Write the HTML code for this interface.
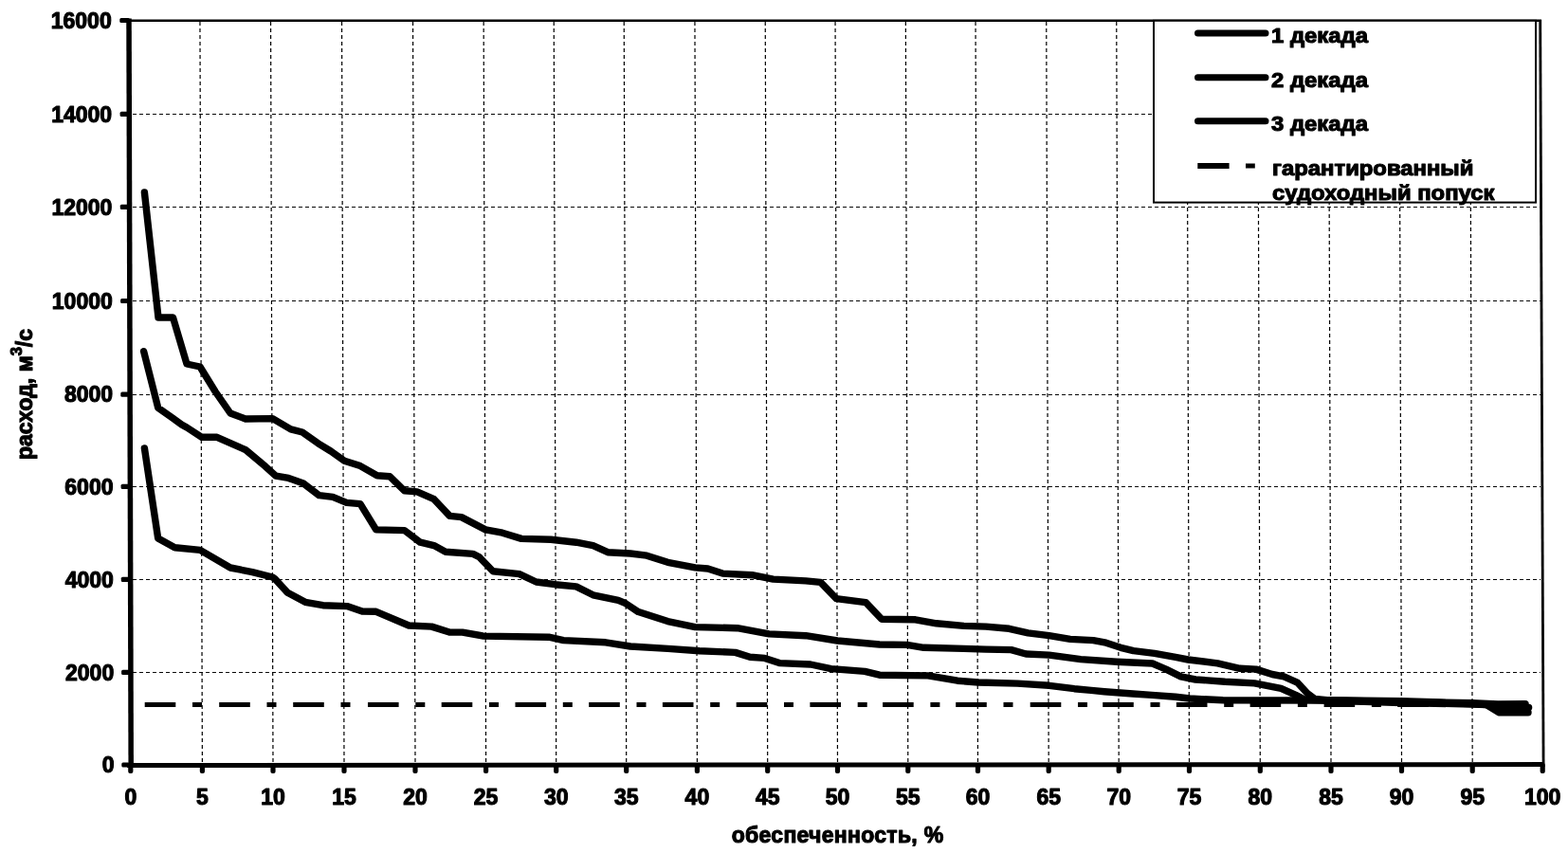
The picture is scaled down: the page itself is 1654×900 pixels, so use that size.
<!DOCTYPE html>
<html><head><meta charset="utf-8"><title>chart</title>
<style>html,body{margin:0;padding:0;background:#fff;}body{width:1654px;height:900px;overflow:hidden;}svg{display:block;}text{font-family:"Liberation Sans",Arial,sans-serif;font-weight:bold;fill:#000;stroke:#000;stroke-width:1.1px;stroke-linejoin:round;}</style>
</head><body>
<svg width="1654" height="900" viewBox="0 0 1654 900">
<rect width="100%" height="100%" fill="#fff"/>
<g stroke="#000" stroke-width="1.2" stroke-dasharray="4 3" fill="none">
<line x1="210.95" y1="23" x2="213.4" y2="805"/>
<line x1="285.55" y1="23" x2="288" y2="805"/>
<line x1="360.55" y1="23" x2="363" y2="805"/>
<line x1="435.55" y1="23" x2="438" y2="805"/>
<line x1="510.15" y1="23" x2="512.6" y2="805"/>
<line x1="584.25" y1="23" x2="586.7" y2="805"/>
<line x1="658.25" y1="23" x2="660.7" y2="805"/>
<line x1="732.95" y1="23" x2="735.4" y2="805"/>
<line x1="807.25" y1="23" x2="809.7" y2="805"/>
<line x1="881.05" y1="23" x2="883.5" y2="805"/>
<line x1="955.35" y1="23" x2="957.8" y2="805"/>
<line x1="1029.05" y1="23" x2="1031.5" y2="805"/>
<line x1="1103.75" y1="23" x2="1106.2" y2="805"/>
<line x1="1177.75" y1="23" x2="1180.2" y2="805"/>
<line x1="1252.05" y1="23" x2="1254.5" y2="805"/>
<line x1="1326.85" y1="23" x2="1329.3" y2="805"/>
<line x1="1401.55" y1="23" x2="1404" y2="805"/>
<line x1="1476.05" y1="23" x2="1478.5" y2="805"/>
<line x1="1550.75" y1="23" x2="1553.2" y2="805"/>
<line x1="140" y1="709.5" x2="1625" y2="709.5"/>
<line x1="140" y1="611.5" x2="1625" y2="611.5"/>
<line x1="140" y1="513.5" x2="1625" y2="513.5"/>
<line x1="140" y1="416.5" x2="1625" y2="416.5"/>
<line x1="140" y1="317.5" x2="1625" y2="317.5"/>
<line x1="140" y1="218.5" x2="1625" y2="218.5"/>
<line x1="140" y1="120.5" x2="1625" y2="120.5"/>
</g>
<g stroke="#000" fill="none">
<line x1="134" y1="21.8" x2="1626" y2="21.8" stroke-width="2.4"/>
<line x1="1624.7" y1="21" x2="1628.1" y2="809" stroke-width="2.8"/>
<line x1="136.0" y1="19.5" x2="138.2" y2="809.5" stroke-width="5.5"/>
<line x1="134" y1="807.5" x2="1629" y2="806.6" stroke-width="5"/>
</g>
<g fill="#000">
<rect x="128.3" y="804.4" width="8.5" height="5.2" rx="1.5"/>
<rect x="128.1" y="706.8" width="8.7" height="5.2" rx="1.5"/>
<rect x="127.8" y="608.8" width="9.0" height="5.2" rx="1.5"/>
<rect x="127.6" y="510.7" width="9.2" height="5.2" rx="1.5"/>
<rect x="127.3" y="413.6" width="9.5" height="5.2" rx="1.5"/>
<rect x="127.1" y="314.9" width="9.7" height="5.2" rx="1.5"/>
<rect x="126.8" y="215.8" width="10.0" height="5.2" rx="1.5"/>
<rect x="126.6" y="117.8" width="10.2" height="5.2" rx="1.5"/>
<rect x="126.3" y="18.9" width="10.5" height="5.2" rx="1.5"/>
<rect x="135.2" y="805" width="5.2" height="11" rx="2"/>
<rect x="210.8" y="805" width="5.2" height="11" rx="2"/>
<rect x="285.4" y="805" width="5.2" height="11" rx="2"/>
<rect x="360.4" y="805" width="5.2" height="11" rx="2"/>
<rect x="435.4" y="805" width="5.2" height="11" rx="2"/>
<rect x="510.0" y="805" width="5.2" height="11" rx="2"/>
<rect x="584.1" y="805" width="5.2" height="11" rx="2"/>
<rect x="658.1" y="805" width="5.2" height="11" rx="2"/>
<rect x="732.8" y="805" width="5.2" height="11" rx="2"/>
<rect x="807.1" y="805" width="5.2" height="11" rx="2"/>
<rect x="880.9" y="805" width="5.2" height="11" rx="2"/>
<rect x="955.2" y="805" width="5.2" height="11" rx="2"/>
<rect x="1028.9" y="805" width="5.2" height="11" rx="2"/>
<rect x="1103.6" y="805" width="5.2" height="11" rx="2"/>
<rect x="1177.6" y="805" width="5.2" height="11" rx="2"/>
<rect x="1251.9" y="805" width="5.2" height="11" rx="2"/>
<rect x="1326.7" y="805" width="5.2" height="11" rx="2"/>
<rect x="1401.4" y="805" width="5.2" height="11" rx="2"/>
<rect x="1475.9" y="805" width="5.2" height="11" rx="2"/>
<rect x="1550.6" y="805" width="5.2" height="11" rx="2"/>
<rect x="1624.6" y="805" width="5.2" height="11" rx="2"/>
</g>
<path d="M152.7 743.6H185.3M203.0 743.6H213.0M231.2 743.6H263.8M281.5 743.6H291.5M309.2 743.6H341.8M359.5 743.6H369.5M388.0 743.6H420.6M438.3 743.6H448.3M465.7 743.6H498.3M516.0 743.6H526.0M543.5 743.6H576.1M593.8 743.6H603.8M621.2 743.6H653.8M671.5 743.6H681.5M698.9 743.6H731.5M749.2 743.6H759.2M776.7 743.6H809.3M827.0 743.6H837.0M854.4 743.6H887.0M904.7 743.6H914.7M931.1 743.6H963.7M981.4 743.6H991.4M1008.2 743.6H1040.8M1058.5 743.6H1068.5M1086.7 743.6H1119.3M1137.0 743.6H1147.0M1163.2 743.6H1195.8M1213.5 743.6H1223.5M1240.9 743.6H1273.5M1291.2 743.6H1301.2M1318.6 743.6H1351.2M1368.9 743.6H1378.9M1396.6 743.6H1429.2M1446.9 743.6H1456.9M1474.2 743.6H1506.8M1524.5 743.6H1534.5M1551.8 743.6H1584.4M1602.1 743.6H1612.1" stroke="#000" stroke-width="5.0" fill="none"/>
<g fill="none" stroke="#000" stroke-width="7.4" stroke-linejoin="round" stroke-linecap="round">
<polyline points="152.4,203.0 167.0,335.0 182.5,335.0 197.0,384.0 211.0,387.0 227.0,413.0 243.0,436.0 259.0,442.0 287.6,441.6 306.7,452.9 318.9,456.0 335.6,467.8 348.9,476.0 363.3,486.2 380.0,491.6 397.8,501.8 411.1,502.7 426.7,517.8 440.0,518.9 457.8,526.7 474.4,544.4 486.7,545.6 512.2,558.9 530.0,562.2 550.0,568.4 581.1,569.3 607.8,572.2 625.6,575.6 641.1,582.7 665.0,584.0 682.2,586.2 704.4,593.3 733.3,598.9 746.7,600.0 762.2,605.1 793.3,606.7 815.6,611.1 850.0,612.9 865.6,614.4 882.2,631.6 913.3,635.6 930.0,653.3 965.6,653.8 987.8,657.8 1016.7,660.4 1040.0,661.1 1064.4,663.3 1084.4,667.8 1106.7,670.7 1128.9,674.4 1153.3,675.6 1166.7,678.2 1182.2,683.3 1195.6,686.7 1217.8,689.3 1240.0,693.3 1253.3,696.0 1284.4,699.9 1307.8,705.3 1324.9,706.1 1342.0,711.5 1354.4,713.9 1368.4,720.1 1379.3,731.8 1387.0,737.5 1400.0,738.6 1478.0,739.8 1520.0,741.0 1553.0,741.7 1580.0,743.0 1609.0,742.8"/>
<polyline points="151.6,370.7 166.7,430.2 182.0,441.0 191.6,448.0 197.0,451.0 212.9,461.3 228.9,461.3 259.1,474.7 280.0,492.2 291.1,502.2 304.4,504.4 320.0,510.0 336.7,522.7 351.1,524.4 365.6,530.4 380.0,531.6 396.7,558.9 426.7,559.6 443.3,572.2 457.8,575.6 470.0,582.2 498.9,584.4 505.6,587.8 520.0,602.7 547.8,605.6 565.6,614.0 585.6,616.7 607.8,618.9 625.6,627.8 652.2,633.3 660.0,636.7 673.3,645.6 704.4,655.6 733.3,661.6 777.8,662.7 811.1,668.9 850.0,670.7 883.3,676.0 927.8,680.0 956.7,680.4 974.4,683.3 1016.7,684.4 1040.0,685.1 1066.7,685.6 1082.2,690.0 1106.7,691.1 1140.0,695.6 1177.8,698.2 1215.6,700.0 1230.0,706.1 1245.6,713.9 1261.1,717.0 1292.2,719.3 1323.3,720.9 1351.3,726.3 1366.9,733.3 1376.0,738.0 1400.0,739.0 1478.0,741.5 1553.0,743.0 1567.9,743.5 1582.8,746.5 1612.6,746.5"/>
<polyline points="152.4,472.9 166.7,568.0 184.4,577.8 211.1,580.4 243.0,599.0 266.2,603.6 287.6,609.0 290.0,610.7 303.3,625.3 322.0,635.3 340.7,638.7 366.0,639.6 382.0,645.1 396.7,645.3 431.3,660.0 455.3,661.1 474.0,667.0 487.8,667.1 510.0,671.1 578.9,672.2 594.4,675.6 638.9,677.8 665.0,682.0 704.4,684.4 737.8,686.7 775.6,688.4 791.1,693.3 806.7,694.4 822.2,699.6 855.0,701.0 876.7,705.6 912.2,708.4 927.8,712.2 978.9,712.9 1010.0,718.2 1032.2,720.0 1073.3,721.1 1106.7,723.3 1133.3,726.7 1151.1,728.4 1165.0,729.7 1195.0,732.0 1215.0,733.4 1240.0,735.3 1255.0,737.0 1290.0,738.8 1400.0,739.0 1478.0,740.5 1553.0,742.5 1567.9,743.5 1581.0,751.7 1612.0,751.7"/>
</g>
<g font-size="23" text-anchor="end">
<text x="120.5" y="815.2">0</text>
<text x="120.2" y="717.6">2000</text>
<text x="119.8" y="619.6">4000</text>
<text x="119.5" y="521.5">6000</text>
<text x="119.1" y="424.4">8000</text>
<text x="118.8" y="325.7">10000</text>
<text x="118.4" y="226.6">12000</text>
<text x="118.1" y="128.6">14000</text>
<text x="117.7" y="29.7">16000</text>
</g>
<g font-size="23" text-anchor="middle">
<text x="137.8" y="849">0</text>
<text x="213.4" y="849">5</text>
<text x="288" y="849">10</text>
<text x="363" y="849">15</text>
<text x="438" y="849">20</text>
<text x="512.6" y="849">25</text>
<text x="586.7" y="849">30</text>
<text x="660.7" y="849">35</text>
<text x="735.4" y="849">40</text>
<text x="809.7" y="849">45</text>
<text x="883.5" y="849">50</text>
<text x="957.8" y="849">55</text>
<text x="1031.5" y="849">60</text>
<text x="1106.2" y="849">65</text>
<text x="1180.2" y="849">70</text>
<text x="1254.5" y="849">75</text>
<text x="1329.3" y="849">80</text>
<text x="1404" y="849">85</text>
<text x="1478.5" y="849">90</text>
<text x="1553.2" y="849">95</text>
<text x="1627.2" y="849">100</text>
</g>
<text x="883.6" y="889" font-size="23" letter-spacing="0.3" text-anchor="middle">обеспеченность, %</text>
<text transform="translate(34,416) rotate(-90)" font-size="23" text-anchor="middle">расход, м<tspan font-size="16.5" dy="-11">3</tspan><tspan dy="11">/с</tspan></text>
<rect x="1217" y="21.8" width="403" height="191.8" fill="#fff" stroke="#000" stroke-width="2"/>
<g stroke="#000" stroke-width="7" stroke-linecap="round">
<line x1="1263.5" y1="35" x2="1335" y2="35"/>
<line x1="1263.5" y1="81.7" x2="1335" y2="81.7"/>
<line x1="1263.5" y1="127.7" x2="1335" y2="127.7"/>
</g>
<line x1="1263.3" y1="175" x2="1296.6" y2="175" stroke="#000" stroke-width="6"/>
<line x1="1314" y1="175" x2="1323.8" y2="175" stroke="#000" stroke-width="5"/>
<g font-size="22">
<text transform="translate(1341,45.3) scale(1.085,1)">1 декада</text>
<text transform="translate(1341,92) scale(1.085,1)">2 декада</text>
<text transform="translate(1341,138) scale(1.085,1)">3 декада</text>
<text transform="translate(1342,184.5) scale(1.085,1)">гарантированный</text>
<text transform="translate(1342,210.5) scale(1.085,1)">судоходный попуск</text>
</g>
</svg></body></html>
